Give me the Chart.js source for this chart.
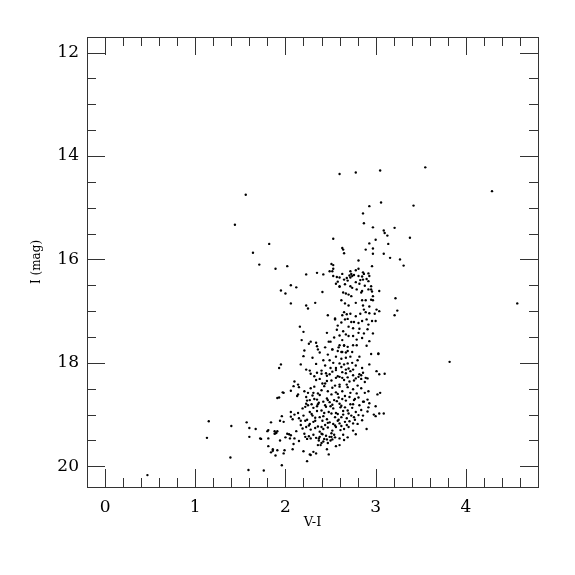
<!DOCTYPE html>
<html>
<head>
<meta charset="utf-8">
<script src="https://cdn.jsdelivr.net/npm/chart.js@4"></script>
<style>
  html, body { margin: 0; padding: 0; background: #fff; }
</style>
</head>
<body>
<canvas id="cmdChart" width="575" height="575"></canvas>
<script>
// Colour-magnitude data, [V-I, I]
var sparseStars = [
  [2.60,14.35],[2.78,14.32],[3.05,14.28],[3.55,14.22],[4.29,14.68],[1.56,14.75],[1.44,15.33],
  [3.06,14.90],[2.93,14.97],[3.42,14.96],[2.86,15.11],[2.87,15.30],[2.97,15.38],[3.09,15.44],
  [3.10,15.49],[3.13,15.54],[3.21,15.39],[3.38,15.58],[1.82,15.70],[1.64,15.87],[1.71,16.10],
  [1.89,16.18],[2.02,16.13],[2.53,15.60],[2.63,15.78],[2.64,15.81],[2.65,15.88],[3.00,15.62],
  [2.93,15.69],[2.97,15.79],[2.89,15.81],[2.97,15.89],[3.09,15.89],[3.14,15.70],[3.16,15.97],
  [3.27,16.00],[3.31,16.12],[2.81,16.02],[2.96,16.13],[4.57,16.85],[3.82,17.98],[3.22,16.75],
  [3.24,16.99],[3.21,17.08],[1.95,16.60],[2.00,16.66],[2.06,16.50],[2.12,16.54],[2.41,16.63],
  [0.47,20.17]
];

var upperGiants = [
  [2.51,16.09],[2.53,16.11],[2.53,16.18],[2.49,16.23],[2.23,16.29],[2.35,16.26],[2.42,16.29],
  [2.53,16.32],[2.57,16.34],[2.52,16.23],[2.72,16.23],[2.73,16.28],[2.71,16.31],[2.74,16.32],
  [2.72,16.35],[2.78,16.21],[2.81,16.18],[2.86,16.25],[2.87,16.28],[2.92,16.27],[2.93,16.32],
  [2.81,16.32],[2.85,16.33],[2.86,16.39],[2.60,16.35],[2.65,16.39],[2.69,16.41],[2.78,16.44],
  [2.82,16.47],[2.90,16.38],[2.92,16.42],[2.95,16.52],[2.66,16.48],[2.60,16.52],[2.72,16.52],
  [2.74,16.55],[2.92,16.58],[2.95,16.58],[2.96,16.62],[2.85,16.61],[2.84,16.64],[2.64,16.64],
  [2.67,16.66],[2.70,16.68],[2.73,16.71],[2.97,16.71],[3.04,16.61],[2.56,16.47],[2.60,16.53],
  [2.76,16.30],[2.68,16.36],[2.83,16.40],[2.58,16.43],[2.88,16.51],[2.79,16.58],[2.63,16.28]
];

var midGiants = [
  [2.97,16.79],[2.95,16.78],[2.89,16.79],[2.85,16.79],[2.62,16.79],[2.66,16.85],[2.70,16.89],
  [2.78,16.84],[2.86,16.89],[2.93,16.91],[2.87,16.97],[2.89,17.02],[2.93,17.04],[2.99,17.05],
  [3.01,16.97],[3.04,17.00],[2.65,17.02],[2.63,17.08],[2.68,17.06],[2.72,17.05],[2.55,17.16],
  [2.66,17.16],[2.73,17.21],[2.76,17.21],[2.81,17.23],[2.85,17.19],[2.90,17.16],[2.96,17.19],
  [3.00,17.19],[2.92,17.26],[2.75,17.33],[2.82,17.34],[2.91,17.35],[2.64,17.39],[2.67,17.45],
  [2.70,17.48],[2.75,17.48],[2.81,17.42],[2.87,17.43],[2.97,17.43],[2.48,17.59],[2.54,17.51],
  [2.06,16.85],[2.23,16.89],[2.25,16.95],[2.33,16.84],[2.47,17.08],[2.16,17.30],[2.20,17.40],
  [2.18,17.56],[2.26,17.63],[2.28,17.59],[2.46,17.42],[2.50,17.59],[2.55,17.14],[2.69,17.15],
  [2.58,17.28],[2.62,17.22],[2.78,17.10],[2.83,17.05],[2.70,17.30],[2.60,17.47],[2.79,17.55],
  [2.85,17.52],[2.93,17.58],[2.57,17.36]
];

var lowerGiants = [
  [2.60,17.66],[2.65,17.66],[2.69,17.69],[2.75,17.66],[2.79,17.66],[2.90,17.67],[2.52,17.74],
  [2.58,17.77],[2.63,17.79],[2.69,17.77],[2.74,17.79],[2.56,17.88],[2.62,17.92],[2.67,17.90],
  [2.72,17.88],[2.49,17.95],[2.53,18.00],[2.60,18.01],[2.65,18.03],[2.69,18.01],[2.74,18.00],
  [2.50,18.10],[2.56,18.10],[2.62,18.08],[2.67,18.13],[2.72,18.16],[2.75,18.13],[2.49,18.22],
  [2.58,18.26],[2.63,18.29],[2.69,18.28],[2.81,18.27],[2.84,18.24],[2.89,18.29],[3.01,18.16],
  [3.10,18.21],[3.04,18.22],[3.03,17.83],[2.95,17.83],[2.93,18.03],[2.82,17.88],[2.34,17.61],
  [2.35,17.68],[2.36,17.74],[2.21,17.76],[2.20,17.87],[2.38,17.80],[2.44,17.70],[2.47,17.84],
  [2.52,17.74],[2.59,17.70],[2.63,17.56],[2.65,17.67],[2.62,17.79],[2.67,17.80],[3.03,17.82],
  [1.95,18.03],[1.93,18.10],[2.17,18.03],[2.34,18.02],[2.23,18.13],[2.28,18.21],[2.32,18.26],
  [2.40,18.15],[2.44,18.05],[2.42,17.95],[2.30,17.90],[2.45,18.20],[2.78,18.05],[2.85,18.10],
  [2.80,17.95]
];

var clumpStars = [
  [2.27,18.15],[2.35,18.19],[2.40,18.21],[2.46,18.25],[2.52,18.17],[2.56,18.14],[2.60,18.27],
  [2.63,18.18],[2.67,18.20],[2.70,18.11],[2.75,18.24],[2.78,18.30],[2.82,18.22],[2.86,18.19],
  [2.10,18.36],[2.14,18.42],[2.34,18.33],[2.38,18.31],[2.41,18.40],[2.46,18.35],[2.51,18.34],
  [2.56,18.29],[2.60,18.42],[2.65,18.33],[2.71,18.36],[2.76,18.34],[2.80,18.44],[2.84,18.31],
  [2.88,18.37],[2.91,18.30],[2.09,18.45],[2.15,18.47],[2.06,18.54],[1.97,18.57],[2.14,18.61],
  [2.21,18.55],[2.25,18.58],[2.28,18.49],[2.32,18.46],[2.36,18.59],[2.40,18.53],[2.43,18.45],
  [2.47,18.55],[2.52,18.48],[2.56,18.57],[2.60,18.46],[2.63,18.55],[2.69,18.47],[2.75,18.51],
  [2.79,18.59],[2.84,18.49],[2.88,18.58],[2.92,18.55],[3.02,18.61],[3.05,18.58],[1.93,18.67],
  [2.23,18.66],[2.27,18.72],[2.30,18.63],[2.35,18.71],[2.38,18.62],[2.42,18.75],[2.46,18.69],
  [2.51,18.61],[2.54,18.72],[2.59,18.67],[2.63,18.70],[2.66,18.64],[2.71,18.66],[2.76,18.72],
  [2.81,18.67],[2.86,18.75],[2.91,18.71],[2.23,18.79],[2.36,18.80],[2.49,18.76],[2.60,18.79],
  [2.75,18.80],[1.98,18.58],[2.13,18.64],[1.91,18.68],[2.44,18.40],[2.55,18.44],[2.68,18.42],
  [2.31,18.58],[2.58,18.60],[2.72,18.58]
];

var coreStars = [
  [2.24,18.73],[2.29,18.80],[2.32,18.70],[2.37,18.77],[2.44,18.82],[2.47,18.72],[2.52,18.81],
  [2.57,18.74],[2.62,18.83],[2.67,18.73],[2.72,18.80],[2.77,18.70],[2.82,18.82],[2.87,18.75],
  [2.93,18.78],[2.92,18.86],[2.14,18.97],[2.19,18.88],[2.22,18.85],[2.27,18.95],[2.31,18.87],
  [2.35,18.93],[2.40,18.92],[2.45,18.85],[2.48,18.95],[2.53,18.88],[2.56,18.97],[2.61,18.86],
  [2.64,18.93],[2.69,18.92],[2.74,18.87],[2.78,18.95],[2.84,18.91],[2.91,18.94],[3.00,19.03],
  [3.04,18.98],[3.09,18.98],[1.96,19.03],[2.06,19.04],[2.10,19.00],[2.15,19.07],[2.20,19.02],
  [2.24,19.10],[2.29,18.99],[2.33,19.06],[2.38,19.05],[2.42,19.03],[2.46,19.09],[2.51,18.98],
  [2.55,19.05],[2.59,19.10],[2.64,19.00],[2.68,19.07],[2.73,19.02],[2.77,19.10],[2.81,19.01],
  [2.86,19.02],[1.98,19.14],[2.08,19.09],[2.17,19.20],[2.22,19.12],[2.27,19.18],[2.31,19.14],
  [2.36,19.23],[2.41,19.12],[2.44,19.20],[2.49,19.15],[2.53,19.18],[2.58,19.12],[2.62,19.22],
  [2.66,19.14],[2.71,19.13],[2.75,19.17],[2.80,19.18],[2.85,19.11],[1.80,19.32],[1.88,19.32],
  [2.12,19.32],[2.19,19.27],[2.23,19.24],[2.28,19.29],[2.33,19.26],[2.38,19.33],[2.42,19.28],
  [2.47,19.25],[2.52,19.31],[2.56,19.24],[2.61,19.30],[2.65,19.28],[2.70,19.24],[2.75,19.31],
  [1.90,19.35],[2.04,19.38],[2.21,19.37],[2.26,19.42],[2.31,19.39],[2.37,19.46],[2.41,19.38],
  [2.46,19.48],[2.51,19.36],[2.55,19.44],[2.60,19.46],[2.64,19.39],[2.69,19.44],[2.78,19.38],
  [2.90,19.28],[2.98,19.00],[3.00,18.84],[2.25,18.82],[2.35,18.84],[2.50,18.84],[2.66,18.86],
  [2.43,18.97],[2.58,18.99],[2.70,18.98],[2.33,19.12],[2.47,19.16],[2.60,19.17],[2.26,19.21],
  [2.40,19.24],[2.55,19.21],[2.68,19.20],[2.17,19.12],[2.30,19.02],[2.62,19.05],[2.76,19.05]
];

var faintStars = [
  [1.94,19.50],[1.99,19.69],[1.98,19.75],[1.96,19.98],[2.05,19.46],[2.10,19.46],[2.15,19.51],
  [2.09,19.57],[2.08,19.67],[2.20,19.71],[2.24,19.90],[2.22,19.43],[2.24,19.47],[2.28,19.46],
  [2.28,19.78],[2.31,19.72],[2.34,19.75],[2.34,19.45],[2.37,19.50],[2.38,19.43],[2.36,19.59],
  [2.39,19.59],[2.46,19.67],[2.48,19.77],[2.56,19.61],[2.60,19.59],[2.65,19.49],[2.52,19.48],
  [2.51,19.43],[2.27,19.77],[1.89,19.36],[2.02,19.37],[2.00,19.44],[2.06,19.40],[2.40,19.37],
  [2.43,19.47],[2.45,19.41],[2.49,19.43],[2.50,19.50],[2.54,19.39],[2.42,19.52],[2.47,19.55],
  [2.40,19.55],[1.15,19.13],[1.13,19.45],[1.40,19.22],[1.39,19.83],[1.57,19.15],[1.60,19.26],
  [1.67,19.28],[1.60,19.43],[1.72,19.46],[1.73,19.47],[1.81,19.30],[1.81,19.46],[1.81,19.61],
  [1.84,19.15],[1.91,19.32],[1.88,19.37],[1.86,19.67],[1.84,19.73],[1.89,19.79],[1.91,19.69],
  [1.59,20.07],[1.76,20.08],[1.86,19.70],[1.94,19.12],[2.06,18.95]
];

var xTickValues = [0, 1, 2, 3, 4];
var yTickValues = [12, 14, 16, 18, 20];

var allStars = [].concat(sparseStars, upperGiants, midGiants, lowerGiants, clumpStars, coreStars, faintStars)
  .map(function (s) { return { x: s[0], y: s[1] }; });

// frame with inward ticks on all four sides
var frameTicks = {
  id: 'frameTicks',
  afterDatasetsDraw: function (chart) {
    var ctx = chart.ctx, a = chart.chartArea, x = chart.scales.x, y = chart.scales.y;
    ctx.save();
    ctx.strokeStyle = '#333';
    ctx.lineWidth = 1;
    ctx.beginPath();
    for (var k = 1; k < 25; k++) {
      var v = k / 5 - 0.2;
      var major = Math.abs(v - Math.round(v)) < 1e-6;
      var len = major ? 18 : 9;
      var px = Math.round(x.getPixelForValue(v)) + 0.5;
      ctx.moveTo(px, a.bottom); ctx.lineTo(px, a.bottom - len);
      ctx.moveTo(px, a.top); ctx.lineTo(px, a.top + len);
    }
    for (var j = 0; j <= 16; j++) {
      var w = 12 + j / 2;
      var lenY = (j % 4 === 0) ? 18 : 9;
      var py = Math.round(y.getPixelForValue(w)) + 0.5;
      ctx.moveTo(a.left, py); ctx.lineTo(a.left + lenY, py);
      ctx.moveTo(a.right, py); ctx.lineTo(a.right - lenY, py);
    }
    ctx.stroke();
    ctx.strokeRect(Math.round(a.left) + 0.5, Math.round(a.top) + 0.5, Math.round(a.width), Math.round(a.height));
    ctx.restore();
  }
};

var cmdChart = new Chart(document.getElementById('cmdChart'), {
  type: 'scatter',
  data: {
    datasets: [{
      data: allStars,
      backgroundColor: '#000',
      borderWidth: 0,
      pointRadius: 1.2
    }]
  },
  options: {
    responsive: false,
    animation: false,
    layout: { padding: { top: 37, right: 37, left: 0, bottom: 0 } },
    plugins: { legend: { display: false }, tooltip: { enabled: false } },
    scales: {
      x: {
        type: 'linear',
        min: -0.2,
        max: 4.8,
        grid: { display: false, drawTicks: false },
        border: { display: false },
        afterBuildTicks: function (s) { s.ticks = xTickValues.map(function (v) { return { value: v }; }); },
        afterFit: function (s) { s.height = 88; },
        ticks: { padding: 10, color: '#000', font: { family: 'DejaVu Serif', size: 17 } },
        title: { display: true, text: 'V-I', color: '#000', padding: { bottom: 45 }, font: { family: 'DejaVu Serif', size: 13 } }
      },
      y: {
        type: 'linear',
        reverse: true,
        min: 11.7,
        max: 20.4,
        grid: { display: false, drawTicks: false },
        border: { display: false },
        afterBuildTicks: function (s) { s.ticks = yTickValues.map(function (v) { return { value: v }; }); },
        afterFit: function (s) { s.width = 87; },
        ticks: { padding: 8, color: '#000', font: { family: 'DejaVu Serif', size: 17 } },
        title: { display: true, text: 'I (mag)', color: '#000', padding: { top: 30 }, font: { family: 'DejaVu Serif', size: 12 } }
      }
    }
  },
  plugins: [frameTicks]
});
</script>
</body>
</html>
